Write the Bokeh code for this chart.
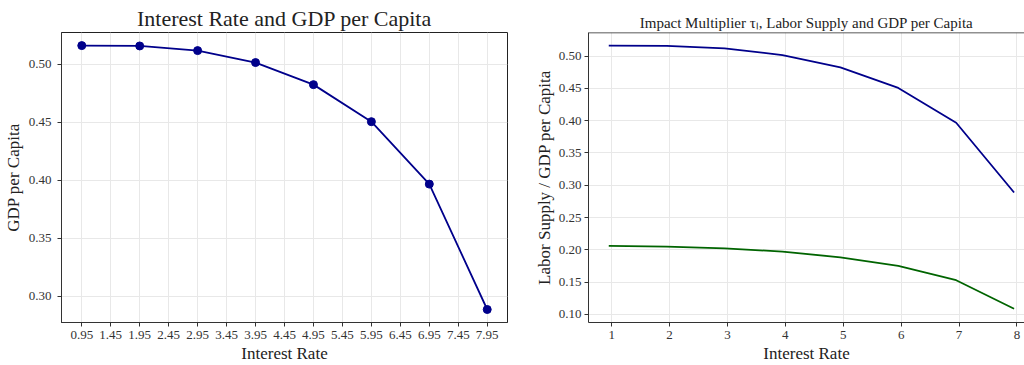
from bokeh.plotting import figure
from bokeh.layouts import row
from bokeh.models import FixedTicker, NumeralTickFormatter, Span
from bokeh.embed import file_html
from bokeh.resources import INLINE

# Data
interest_rate = [0.95, 1.95, 2.95, 3.95, 4.95, 5.95, 6.95, 7.95]
gdp_per_capita = [0.5161, 0.5158, 0.5118, 0.5015, 0.4825, 0.4506, 0.3968, 0.2888]
labor_supply = [0.2061, 0.2050, 0.2024, 0.1973, 0.1885, 0.1752, 0.1530, 0.1088]
left_xticks = [0.95, 1.45, 1.95, 2.45, 2.95, 3.45, 3.95, 4.45, 4.95, 5.45, 5.95, 6.45, 6.95, 7.45, 7.95]
left_yticks = [0.30, 0.35, 0.40, 0.45, 0.50]
right_xticks = [1, 2, 3, 4, 5, 6, 7, 8]
right_yticks = [0.10, 0.15, 0.20, 0.25, 0.30, 0.35, 0.40, 0.45, 0.50]

FONT = "Liberation Serif"
NAVY = "#00008b"
GREEN = "#006400"
GRID = "#e8e8e8"


def style(p, title_size, ylab_standoff, ytick_standoff):
    p.title.text_font = FONT
    p.title.text_font_size = title_size
    p.title.text_font_style = "normal"
    p.title.align = "center"
    p.title.text_color = "#222222"
    p.title.standoff = 3
    p.title.offset = 0
    for ax in (p.xaxis[0], p.yaxis[0]):
        ax.axis_label_text_font = FONT
        ax.axis_label_text_font_size = "17px"
        ax.axis_label_text_font_style = "normal"
        ax.axis_label_text_color = "#222222"
        ax.major_label_text_font = FONT
        ax.major_label_text_font_size = "13px"
        ax.major_label_text_color = "#333333"
        ax.major_tick_in = 0
        ax.major_tick_out = 4
        ax.minor_tick_line_color = None
        ax.axis_line_color = "#333333"
        ax.major_tick_line_color = "#333333"
    p.xaxis[0].major_label_standoff = 4
    p.xaxis[0].axis_label_standoff = 2
    p.yaxis[0].major_label_standoff = ytick_standoff
    p.yaxis[0].axis_label_standoff = ylab_standoff
    p.xgrid.grid_line_color = GRID
    p.ygrid.grid_line_color = GRID
    p.outline_line_color = "#222222"
    p.background_fill_color = "white"
    p.border_fill_color = "white"


H = 365

# Left figure
p1 = figure(width=530, height=H, output_backend="svg", toolbar_location=None,
            x_range=(0.6, 8.3), y_range=(0.2776, 0.5274),
            title="Interest Rate and GDP per Capita",
            min_border_left=61, min_border_right=23, min_border_top=32, min_border_bottom=43)
p1.line(interest_rate, gdp_per_capita, line_color=NAVY, line_width=1.8)
p1.scatter(interest_rate, gdp_per_capita, size=8, fill_color=NAVY, line_color=NAVY)
p1.xaxis.axis_label = "Interest Rate"
p1.yaxis.axis_label = "GDP per Capita"
p1.xaxis.ticker = FixedTicker(ticks=left_xticks)
p1.yaxis.ticker = FixedTicker(ticks=left_yticks)
p1.xaxis.formatter = NumeralTickFormatter(format="0.00")
p1.yaxis.formatter = NumeralTickFormatter(format="0.00")
style(p1, "22px", 3, 6)

# Right figure
p2 = figure(width=494, height=H, output_backend="svg", toolbar_location=None,
            x_range=(0.6, 8.13), y_range=(0.0876, 0.5364),
            title="Impact Multiplier τₗ, Labor Supply and GDP per Capita",
            min_border_left=58, min_border_right=0, min_border_top=32, min_border_bottom=43)
p2.line(interest_rate, gdp_per_capita, line_color=NAVY, line_width=1.8)
p2.line(interest_rate, labor_supply, line_color=GREEN, line_width=1.8)
p2.xaxis.axis_label = "Interest Rate"
p2.yaxis.axis_label = "Labor Supply / GDP per Capita"
p2.xaxis.ticker = FixedTicker(ticks=right_xticks)
p2.yaxis.ticker = FixedTicker(ticks=right_yticks)
p2.xaxis.formatter = NumeralTickFormatter(format="0")
p2.yaxis.formatter = NumeralTickFormatter(format="0.00")
style(p2, "15px", 2, 3)
p2.outline_line_color = None
p2.add_layout(Span(location=0.5364, dimension="width", line_color="#222222", line_width=1.5))

layout = row(p1, p2)
open("out.html", "w").write(file_html(layout, INLINE))
